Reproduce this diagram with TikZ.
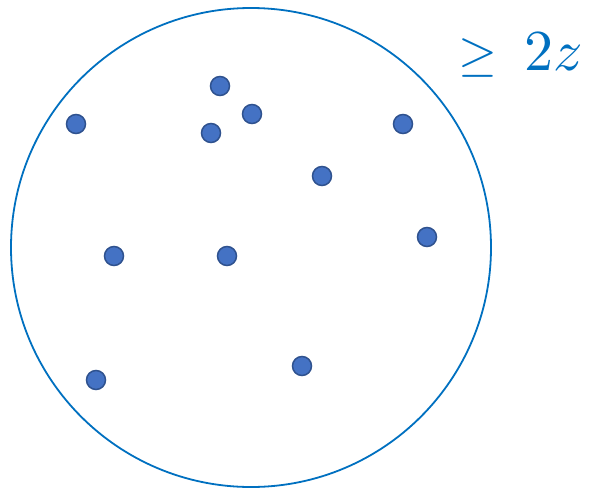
\documentclass[tikz,border=0pt]{standalone}
\definecolor{ringblue}{HTML}{0070C0}
\definecolor{dotfill}{HTML}{4472C4}
\definecolor{dotedge}{HTML}{2F528F}
\begin{document}
\begin{tikzpicture}[x=1pt,y=-1pt,
  pt/.style={circle,draw=dotedge,fill=dotfill,line width=1.5pt,minimum size=19pt,inner sep=0pt},
  ring/.style={draw=ringblue,line width=1.8pt},
  lbl/.style={text=ringblue,inner sep=0pt,anchor=base west}]
\useasboundingbox (0,0) rectangle (595,491);
\draw[ring] (251,247.5) ellipse [x radius=240, y radius=239.5];
\node[pt] (d1) at (220,86) {};
\node[pt] (d2) at (252,114) {};
\node[pt] (d3) at (76,124) {};
\node[pt] (d4) at (211,133) {};
\node[pt] (d5) at (403,124) {};
\node[pt] (d6) at (322,176) {};
\node[pt] (d7) at (427,237) {};
\node[pt] (d8) at (114,256) {};
\node[pt] (d9) at (227,256) {};
\node[pt] (d10) at (302,366) {};
\node[pt] (d11) at (96,380) {};
\node[lbl] (lab) at (458,70) {\scalebox{5}{${\geq}$}\hspace{27pt}\scalebox{5.8}{$2z$}};
\end{tikzpicture}
\end{document}
